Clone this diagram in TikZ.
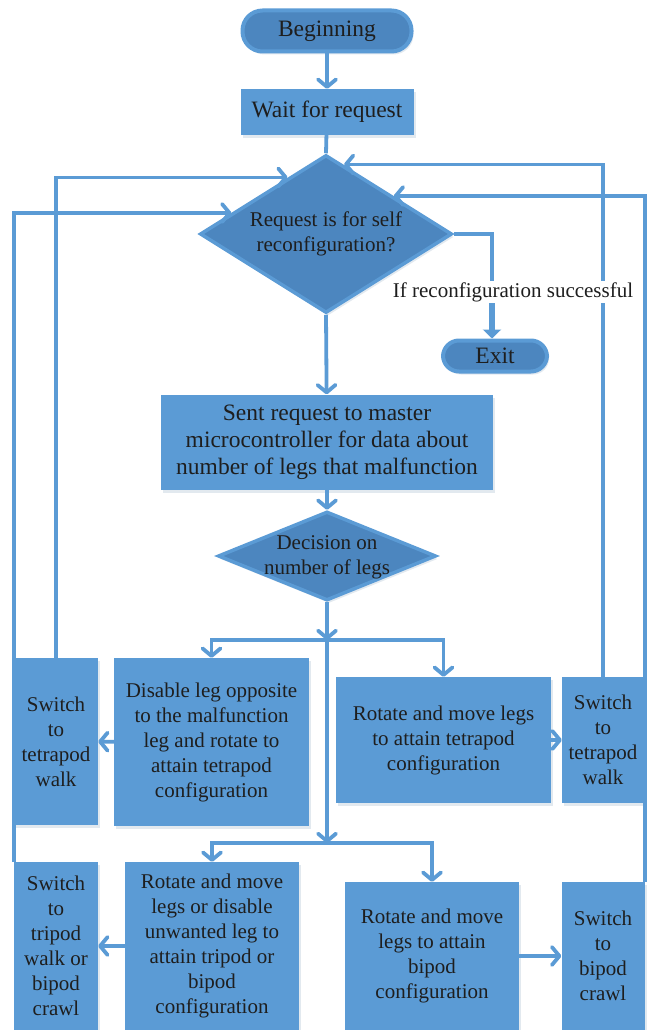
\documentclass[tikz,border=0pt]{standalone}
\usepackage{fontspec}
\setmainfont{Liberation Serif}
\definecolor{flowblue}{HTML}{5B9BD5}
\definecolor{flowdark}{HTML}{4C86BF}
\definecolor{flowtext}{HTML}{1E1E1E}
\usetikzlibrary{shapes.geometric,arrows.meta,calc,shadows}

\begin{document}
\begin{tikzpicture}[x=1pt,y=-1pt,
  every node/.style={font=\fontsize{21}{25}\selectfont, text=flowtext, align=center, inner sep=0pt},
  big/.style={font=\fontsize{23.5}{27}\selectfont},
  soft/.style={drop shadow={shadow xshift=2pt, shadow yshift=-3pt, opacity=0.18, fill=flowdark!60!gray}},
  box/.style={rectangle, fill=flowblue, soft},
  term/.style={rectangle, rounded corners=16pt, fill=flowdark, draw=flowblue, line width=4pt, soft},
  dec/.style={diamond, fill=flowdark, draw=flowblue, line width=3.5pt, soft},
  link/.style={flowblue, line width=3.8pt},
  flow/.style={link, -{Straight Barb[length=7.5pt,width=18pt,round]}},
]
\useasboundingbox (0,0) rectangle (651,1030);

% Top part
\node[term, big, rounded corners=20pt, minimum width=169, minimum height=41] (begin) at (327,31) {Beginning};
\node[box, big, minimum width=173, minimum height=46] (wait) at (327,112) {Wait for request};
\node[dec, minimum width=252, minimum height=158] (req) at (326,234) {};
\node (reqtxt) at (326,234) {Request is for self\\reconfiguration?};
\node[term, big, minimum width=104, minimum height=31] (exit) at (495,356) {Exit};
\node[box, big, minimum width=332, minimum height=95] (sent) at (327,442)
  {Sent request to master\\microcontroller for data about\\number of legs that malfunction};
\node[dec, minimum width=218, minimum height=89] (legs) at (327,556) {};
\node (legstxt) at (327,557) {Decision on\\number of legs};

% First row
\node[box, minimum width=84, minimum height=167] (walkL) at (56,741.5) {Switch\\to\\tetrapod\\walk};
\node[box, minimum width=195, minimum height=168] (dis) at (211.5,742)
  {Disable leg opposite\\to the malfunction\\leg and rotate to\\attain tetrapod\\configuration};
\node[box, minimum width=215, minimum height=126] (rottetra) at (443.5,740)
  {Rotate and move legs\\to attain tetrapod\\configuration};
\node[box, minimum width=82, minimum height=126] (walkR) at (603,740) {Switch\\to\\tetrapod\\walk};

% Second row
\node[box, minimum width=84, minimum height=168] (tripod) at (56,946) {Switch\\to\\tripod\\walk or\\bipod\\crawl};
\node[box, minimum width=174, minimum height=168] (rotdis) at (212,946)
  {Rotate and move\\legs or disable\\unwanted leg to\\attain tripod or\\bipod\\configuration};
\node[box, minimum width=174, minimum height=148] (rotbi) at (432,956)
  {Rotate and move\\legs to attain\\bipod\\configuration};
\node[box, minimum width=83, minimum height=148] (crawl) at (603,956) {Switch\\to\\bipod\\crawl};

% Main flow
\coordinate (j1) at (327,640);
\coordinate (j2) at (327,843);
\draw[flow] (begin) -- (wait);
\draw[link] (wait) -- (req.north);
\draw[flow] (req.south) -- (sent);
\draw[flow] (sent) -- (legs.north);
\draw[flow] (legs.south) -- (j1);
\draw[flow] (j1) -| (dis.north);
\draw[flow] (j1) -| (rottetra.north);
\draw[flow] (j1) -- (j2);
\draw[flow] (j2) -| (rotdis.north);
\draw[flow] (j2) -| (rotbi.north);
\draw[flow] (dis) -- (walkL);
\draw[flow] (rottetra) -- (walkR);
\draw[flow] (rotdis) -- (tripod);
\draw[flow] (rotbi) -- (crawl);

% Exit branch
\coordinate (shaft) at (492,302);
\draw[link] (req.east) -| (shaft);
\draw[link, line width=6pt, -{Triangle[length=9pt,width=18pt]}] (shaft) -- (exit.north -| shaft);

% Loops back to the request test
\draw[flow] (walkL.north) |- ($(req.north)!0.3!(req.west)$);
\draw[flow] (tripod.north west) |- ($(req.north)!0.74!(req.west)$);
\draw[flow] (walkR.north) |- ($(req.north)!0.14!(req.east)$);
\draw[flow] (crawl.north east) |- ($(req.north)!0.53!(req.east)$);

\node[fill=white, inner sep=1pt] (ifok) at (513,292) {If reconfiguration successful};
\end{tikzpicture}
\end{document}
